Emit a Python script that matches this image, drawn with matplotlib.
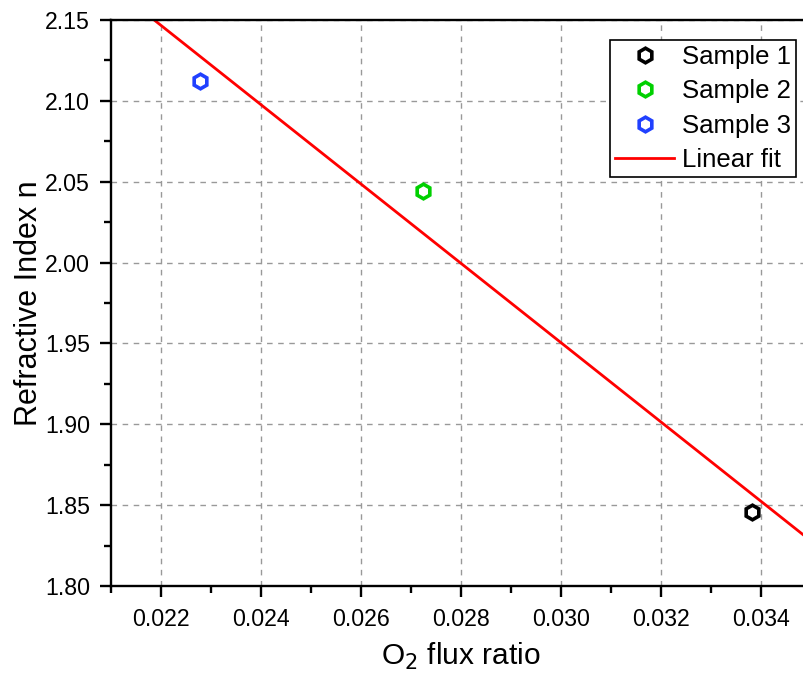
import numpy as np
import matplotlib.pyplot as plt
from matplotlib.ticker import MultipleLocator

plt.rcParams['font.family'] = ['Liberation Sans', 'DejaVu Sans']

# data
samples = ['Sample 1', 'Sample 2', 'Sample 3']
o2_ratio = [0.03383, 0.02724, 0.02278]
ref_index = [1.846, 2.0443, 2.112]
colors = ['#000000', '#00D000', '#2040FF']

fig = plt.figure(figsize=(8.04, 6.79), dpi=100)
ax = fig.add_axes([0.138, 0.137, 1.0087 - 0.138, 0.9705 - 0.137])

for name, x, y, c in zip(samples, o2_ratio, ref_index, colors):
    ax.plot([x], [y], 'h', ms=10.5, mfc='white', mec=c, mew=2.6, label=name, zorder=3)

slope, icpt = np.polyfit(o2_ratio, ref_index, 1)
xf = np.array([0.021, 0.035])
ax.plot(xf, slope * xf + icpt, color='#FF0000', lw=2, label='Linear fit', zorder=2)

ax.set_xlim(0.021, 0.035)
ax.set_ylim(1.80, 2.15)
ax.xaxis.set_major_locator(MultipleLocator(0.002))
ax.xaxis.set_minor_locator(MultipleLocator(0.001))
ax.yaxis.set_major_locator(MultipleLocator(0.05))
ax.yaxis.set_minor_locator(MultipleLocator(0.025))
ax.xaxis.set_major_formatter(lambda v, p: f'{v:.3f}')
ax.yaxis.set_major_formatter(lambda v, p: f'{v:.2f}')

ax.grid(True, which='major', ls=(0, (4, 4)), color='#999999', lw=1)
ax.set_axisbelow(True)
for s in ['left', 'bottom', 'top']:
    ax.spines[s].set_linewidth(1.7)
ax.spines['right'].set_visible(False)
ax.tick_params(which='major', length=8, width=1.7, labelsize=16.7, direction='out')
ax.tick_params(which='minor', length=5, width=1.7, direction='out')
ax.tick_params(axis='x', pad=8)
ax.tick_params(axis='y', pad=7)

ax.set_xlabel('O$_2$ flux ratio', fontsize=21.5, labelpad=7)
ax.set_ylabel('Refractive Index n', fontsize=22, labelpad=1)

leg = ax.legend(loc='upper left', bbox_to_anchor=(0.7587, 0.9411),
                bbox_transform=fig.transFigure, fontsize=18.5, fancybox=False,
                edgecolor='black', framealpha=1, borderaxespad=0,
                borderpad=0.2, labelspacing=0.4, handlelength=2.3,
                handletextpad=0.3)
leg.get_frame().set_linewidth(1.2)

fig.savefig('out.png', dpi=100)
